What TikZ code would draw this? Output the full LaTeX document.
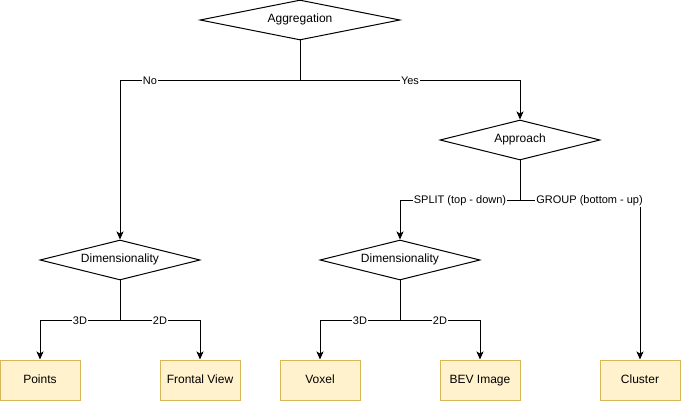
\documentclass[tikz,border=0pt]{standalone}
\usepackage{fontspec}
\setmainfont{Liberation Sans}
\usepackage{tikz}
\usetikzlibrary{shapes,arrows.meta,positioning,calc}
\definecolor{leafyellow}{RGB}{255,242,204}
\definecolor{leafborder}{RGB}{214,182,86}

\begin{document}
\begin{tikzpicture}[
    x=1pt, y=-1pt,
    decision/.style={diamond, draw, line width=1pt, inner sep=0pt, aspect=4, minimum width=#1, minimum height=40pt, text height=9pt, text depth=3pt, font=\fontsize{12}{14}\selectfont},
    decision/.default=160pt,
    leaf/.style={rectangle, draw=leafborder, fill=leafyellow, line width=1pt, minimum width=80pt, minimum height=40pt, text height=9pt, text depth=3pt, font=\fontsize{12}{14}\selectfont},
    arrow/.style={-{Stealth[length=8pt,width=7pt,inset=2pt]}, line width=1pt},
    lbl/.style={fill=white, inner sep=1pt, font=\fontsize{11}{13}\selectfont}
]
    \useasboundingbox (0,0) rectangle (681,401);

    \node[decision=200pt, aspect=5] (agg) at (300,20) {Aggregation};
    \node[decision] (appr) at (520,140) {Approach};
    \node[decision] (dimL) at (120,260) {Dimensionality};
    \node[decision] (dimR) at (400,260) {Dimensionality};

    \node[leaf] (points) at (40,380) {Points};
    \node[leaf] (frontal) at (200,380) {Frontal View};
    \node[leaf] (voxel) at (320,380) {Voxel};
    \node[leaf] (bev) at (480,380) {BEV Image};
    \node[leaf] (cluster) at (640,380) {Cluster};

    \draw[arrow] (agg.south) -- ++(0,40) -| node[lbl, pos=0.417] {No} (dimL.north);
    \draw[arrow] (agg.south) -- ++(0,40) -| node[lbl, pos=0.25] {Yes} (appr.north);

    \draw[arrow] (appr.south) -- ++(0,40) -| node[lbl, pos=0.25] {SPLIT (top - down)} (dimR.north);
    \draw[arrow] (appr.south) -- ++(0,40) -| node[lbl, pos=0.29] {GROUP (bottom - up)} (cluster.north);

    \draw[arrow] (dimL.south) -- ++(0,40) -| node[lbl, pos=0.25] {3D} (points.north);
    \draw[arrow] (dimL.south) -- ++(0,40) -| node[lbl, pos=0.25] {2D} (frontal.north);
    \draw[arrow] (dimR.south) -- ++(0,40) -| node[lbl, pos=0.25] {3D} (voxel.north);
    \draw[arrow] (dimR.south) -- ++(0,40) -| node[lbl, pos=0.25] {2D} (bev.north);
\end{tikzpicture}
\end{document}
